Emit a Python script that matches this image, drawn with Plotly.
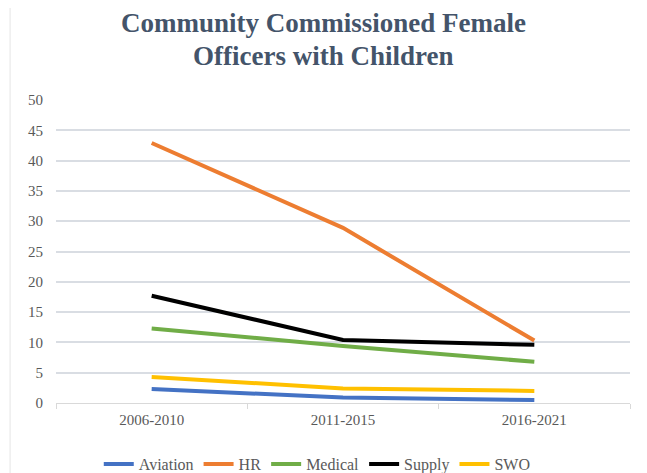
import plotly.graph_objects as go

periods = ["2006-2010", "2011-2015", "2016-2021"]
aviation = [2.3, 0.9, 0.5]
hr = [42.9, 28.9, 10.3]
medical = [12.3, 9.4, 6.8]
supply = [17.7, 10.4, 9.6]
swo = [4.3, 2.4, 2.0]

series = [
    ("Aviation", aviation, "#4472C4"),
    ("HR", hr, "#ED7D31"),
    ("Medical", medical, "#70AD47"),
    ("Supply", supply, "#000000"),
    ("SWO", swo, "#FFC000"),
]

fig = go.Figure()
for name, vals, col in series:
    fig.add_trace(go.Scatter(x=periods, y=vals, name=name, mode="lines",
                             line=dict(color=col, width=4)))

# strona html ma 8px marginesu, wiec marginesy sa przesuniete o 8
fig.update_layout(
    width=647, height=473,
    paper_bgcolor="white", plot_bgcolor="white",
    margin=dict(l=48, r=25, t=92, b=78),
    font=dict(family="Liberation Serif", size=15, color="#595959"),
    legend=dict(orientation="h", xref="container", x=0.478, xanchor="center",
                yref="container", y=0.0, yanchor="bottom",
                font=dict(size=16, color="#595959"), itemwidth=30, tracegroupgap=0),
    showlegend=True,
)
# tytul w dwoch liniach jako adnotacje, wysrodkowany na calym obrazku
title_lines = ["<b>Community Commissioned Female</b>", "<b>Officers with Children</b>"]
for i, line in enumerate(title_lines):
    fig.add_annotation(text=line, xref="paper", yref="paper", x=0.466, y=1.0,
                       yshift=77 - 33 * i, yanchor="middle", xanchor="center",
                       showarrow=False,
                       font=dict(family="Liberation Serif", size=27, color="#44546A"))
fig.update_xaxes(range=[-0.5, 2.5], automargin=False, showgrid=False, showline=True,
                 linecolor="#D9D9D9", linewidth=1, ticks="outside", tickson="boundaries",
                 ticklen=5, tickcolor="#D9D9D9", tickfont=dict(size=15, color="#595959"),
                 ticklabelstandoff=3)
fig.update_yaxes(range=[0, 50], dtick=5, automargin=False, showgrid=True,
                 gridcolor="#D9DDE3", gridwidth=1.5, zeroline=False, ticks="",
                 tickfont=dict(size=15, color="#595959"), ticklabelstandoff=12)
fig.add_shape(type="line", xref="paper", yref="paper", x0=-0.08, x1=-0.08, y0=-0.3, y1=1.35,
              line=dict(color="#E5E5E5", width=1))

fig.write_html("out.html")
